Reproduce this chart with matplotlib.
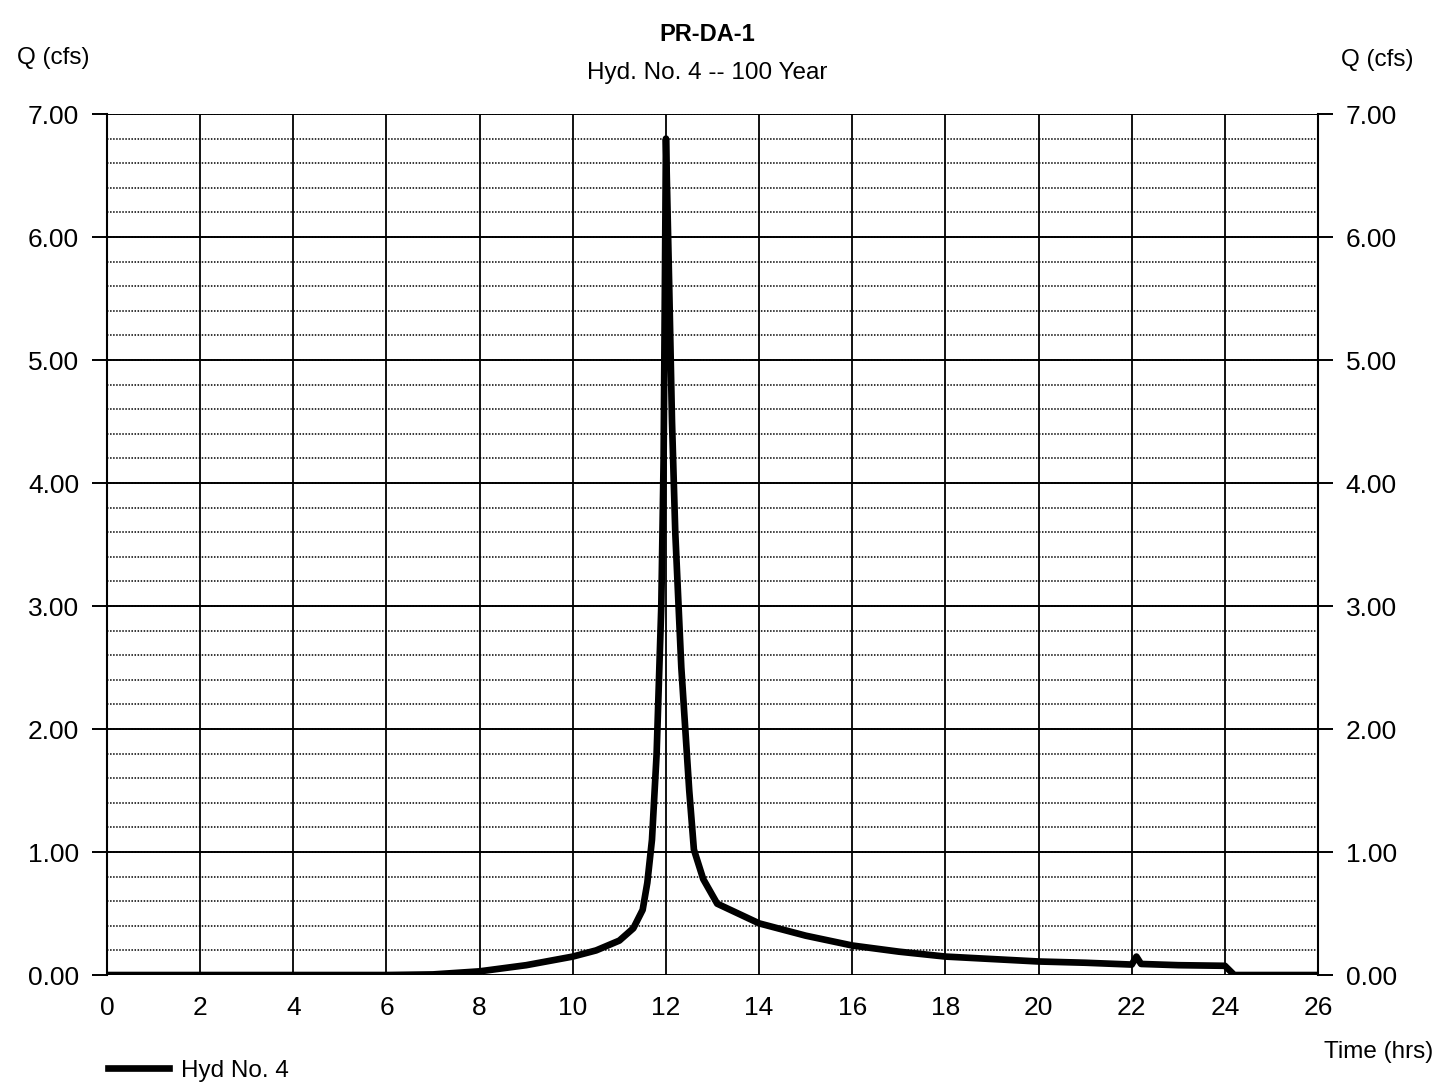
import numpy as np
import matplotlib
matplotlib.use('Agg')
import matplotlib.pyplot as plt

plt.rcParams['font.family'] = ['Liberation Sans', 'DejaVu Sans']

# hydrograph
time_hrs = [0, 6, 7, 8, 9, 10, 10.5, 11, 11.3, 11.5, 11.6, 11.7, 11.8, 11.9, 11.95, 12.0,
            12.07, 12.13, 12.2, 12.33, 12.5, 12.6, 12.8, 13.1, 14, 15, 16, 17, 18, 19,
            20, 21, 22.0, 22.1, 22.2, 23, 24.0, 24.2, 26]
flow_cfs = [0, 0, 0.005, 0.03, 0.08, 0.15, 0.2, 0.28, 0.38, 0.53, 0.75, 1.1, 1.8, 3.0, 4.2, 6.8,
            5.6, 4.5, 3.6, 2.5, 1.5, 1.02, 0.78, 0.58, 0.42, 0.32, 0.24, 0.19, 0.15, 0.13,
            0.11, 0.10, 0.085, 0.15, 0.09, 0.08, 0.075, 0.0, 0.0]

x_ticks = np.arange(0, 27, 2)
y_ticks = np.arange(0, 7.01, 1.0)
y_minor = np.arange(0, 7.01, 0.2)

fig = plt.figure(figsize=(14.38, 10.83), dpi=100)
ax = fig.add_axes([0.0744, 0.0997, 0.8422, 0.795])

ax.set_xlim(0, 26)
ax.set_ylim(0, 7)

# grid
for y in y_minor:
    ax.axhline(y, color='black', lw=1.1, ls=(0, (1, 1.0)), zorder=1)
for y in y_ticks:
    ax.axhline(y, color='black', lw=1.4, zorder=2)
for x in x_ticks:
    ax.axvline(x, color='black', lw=1.3, zorder=2)

ax.plot(time_hrs, flow_cfs, color='black', lw=4.8, solid_joinstyle='round',
        label='Hyd No. 4', zorder=5)

for s in ax.spines.values():
    s.set_visible(False)
ax.spines['left'].set_visible(True)
ax.spines['right'].set_visible(True)
ax.spines['left'].set_linewidth(1.5)
ax.spines['right'].set_linewidth(1.5)

ax.set_xticks(x_ticks)
ax.set_xticklabels([str(v) for v in x_ticks])
ax.set_yticks(y_ticks)
ax.set_yticklabels(['%.2f' % v for v in y_ticks])
ax.tick_params(axis='x', length=0, pad=15, labelsize=19)
ax.tick_params(axis='y', direction='out', length=11, width=1.4, pad=9, labelsize=19,
               left=True, right=True, labelleft=True, labelright=True)

fig.text(0.492, 0.968, 'PR-DA-1', ha='center', va='center', fontsize=17, fontweight='bold')
fig.text(0.492, 0.933, 'Hyd. No. 4 -- 100 Year', ha='center', va='center', fontsize=17.5)
fig.text(0.037, 0.946, 'Q (cfs)', ha='center', va='center', fontsize=17.5)
fig.text(0.958, 0.945, 'Q (cfs)', ha='center', va='center', fontsize=17.5)
fig.text(0.959, 0.029, 'Time (hrs)', ha='center', va='center', fontsize=17.5)

fig.legend(loc='lower left', bbox_to_anchor=(0.060, -0.019), frameon=False, fontsize=17.5,
           handlelength=2.5, handletextpad=0.5)

fig.savefig('out.png', dpi=100)
